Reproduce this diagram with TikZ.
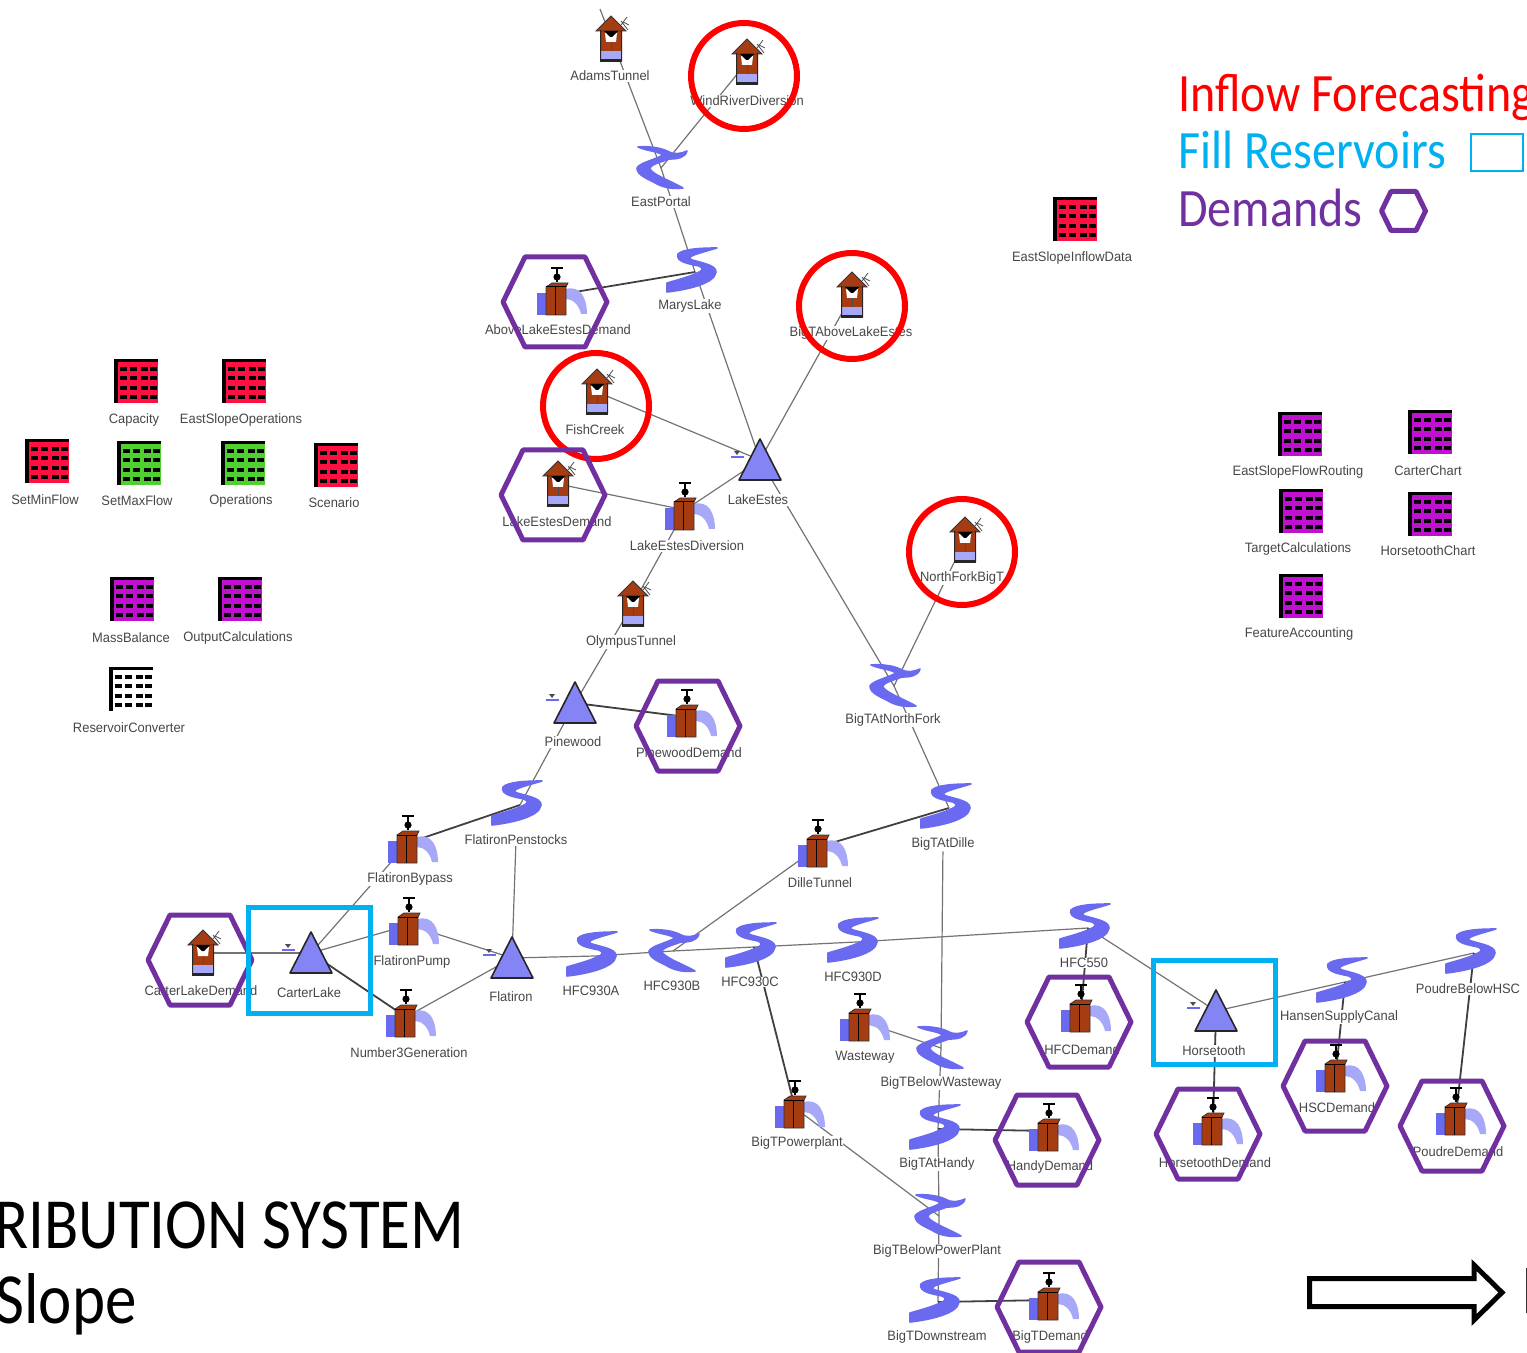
\documentclass[tikz,border=0pt]{standalone}
\usepackage{fontspec}
\setmainfont[FakeStretch=0.95]{Liberation Sans}
\newfontfamily\slidefont[FakeStretch=0.89]{Carlito}
\newfontfamily\titlefont[FakeStretch=0.875]{Carlito}
\pgfdeclarelayer{links}
\pgfsetlayers{links,main}
\definecolor{brick}{HTML}{A63C12}
\definecolor{riverblue}{HTML}{6A6AF0}
\definecolor{lakeblue}{HTML}{8484F4}
\definecolor{palewater}{HTML}{A8A8F8}
\definecolor{ringred}{HTML}{FF0000}
\definecolor{ringblue}{HTML}{00B0F0}
\definecolor{ringpurple}{HTML}{7030A0}
\definecolor{tabred}{HTML}{FF1040}
\definecolor{tabgreen}{HTML}{50D030}
\definecolor{tabpurple}{HTML}{C010D0}
\tikzset{
  x=0.5pt,y=-0.5pt,
  anchorpt/.style={inner sep=0pt,outer sep=0pt,minimum size=0pt},
  lbl/.style={font=\fontsize{6.8}{8}\selectfont,text=black!72,fill=white,inner sep=0.3pt},
  link/.style={draw=black!55,line width=0.6pt},
  strong/.style={draw=black!75,line width=0.9pt},
  redring/.style={circle,draw=ringred,line width=3pt,minimum size=53pt,inner sep=0pt},
  bluering/.style={rectangle,draw=ringblue,line width=2.5pt,inner sep=0pt},
  hexline/.style={draw=ringpurple,line width=2.5pt,line join=round},
  slide/.style={font=\slidefont\fontsize{27}{30}\selectfont,inner sep=0pt},
  big/.style={font=\titlefont\fontsize{36}{40}\selectfont,inner sep=0pt,text=black},
  houseicon/.pic={
    \draw[black!70,line width=0.4pt] (10,-18) -- (17,-9) (10,-14) -- (16,-22) (12,-17) -- (18,-14);
    \fill[brick] (-11,-9) -- (11,-9) -- (11,21) -- (-11,21) -- cycle;
    \fill[brick,draw=black!80,line width=0.4pt] (-15,-8) -- (0,-23) -- (15,-8) -- cycle;
    \fill[palewater] (-10,12) rectangle (10,20);
    \fill[black!85] (-11,20) rectangle (11,23);
    \fill[black!85] (-11,-9) rectangle (-10,22) (10,-9) rectangle (11,22);
    \fill[white] (-6,-6) -- (6,-6) -- (5,3) -- (-5,3) -- cycle;
    \fill[black] (-7,-8) -- (7,-8) -- (1,-2) -- (-1,-2) -- cycle;
    \draw[black!70,line width=0.3pt] (0,3) -- (0,12);
  },
  gateicon/.pic={
    \fill[palewater] (9,-6) .. controls (24,-10) and (30,4) .. (30,19) -- (24,19) .. controls (22,10) and (16,4) .. (9,4) -- cycle;
    \fill[riverblue] (-20,-2) -- (-11,-2) -- (-11,20) -- (-20,20) -- cycle;
    \fill[brick,draw=black!80,line width=0.4pt] (-11,-8) -- (-5,-12) -- (11,-12) -- (9,-8) -- (9,20) -- (-11,20) -- cycle;
    \draw[black,line width=0.5pt] (9,-8) -- (-11,-8) (-2,-8) -- (-2,20);
    \draw[black,line width=1.1pt] (0,-13) -- (0,-26) (-6,-27) -- (6,-27);
    \fill[black] (0,-18) circle (3.6);
  },
  sriver/.pic={
    \filldraw[riverblue,line width=0.8pt,line join=round] (22,-24) .. controls (5,-24) and (-12,-23) .. (-17,-18)
      .. controls (-20,-10) and (-5,-8) .. (4,-6)
      .. controls (9,-4) and (8,-1) .. (2,1)
      .. controls (-6,5) and (-18,8) .. (-28,11) -- (-28,20)
      .. controls (-10,18) and (20,12) .. (21,0)
      .. controls (22,-8) and (0,-10) .. (-5,-13)
      .. controls (-8,-16) and (5,-19) .. (22,-24) -- cycle;
  },
  zriver/.pic={
    \filldraw[riverblue,line width=0.8pt,line join=round] (-23,-21) .. controls (-12,-22) and (0,-20) .. (6,-17)
      .. controls (12,-13) and (20,-14) .. (26,-17)
      .. controls (24,-10) and (16,-9) .. (8,-9)
      .. controls (0,-6) and (-12,-3) .. (-11,1)
      .. controls (-8,7) and (12,14) .. (22,20)
      .. controls (12,21) and (4,20) .. (-4,16)
      .. controls (-12,11) and (-24,8) .. (-24,0)
      .. controls (-22,-5) and (-4,-9) .. (2,-13)
      .. controls (-4,-17) and (-14,-17) .. (-23,-21) -- cycle;
  },
  lakeicon/.pic={
    \draw[riverblue,line width=0.6pt] (-29,-3) -- (-16,-3);
    \fill[black!70] (-26,-9) -- (-20,-9) -- (-23,-5) -- cycle;
    \fill[lakeblue,draw=black!85,line width=0.8pt,line join=round] (0,-21) -- (21,20) -- (-21,20) -- cycle;
  },
  tabdots/.pic={
    \foreach \yy in {-12,-3,7,16} \foreach \xx in {-13,-3,8,17}
      \fill[black] (\xx-3.5,\yy-2) rectangle (\xx+3.5,\yy+2);
  },
  hexring/.pic={
    \draw[hexline] (-52,0) -- (-30,-45) -- (30,-45) -- (52,0) -- (30,45) -- (-30,45) -- cycle;
  }
}
% name, pic, icon x, icon y, label x, label y, text
\newcommand\station[7]{%
  \node[lbl] (#1-label) at (#5,#6) {#7};
  \node[anchorpt] (#1) at (#3,#4) {};
  \pic at (#1) {#2};
}
% name, colour, icon x, icon y, label x, label y, text
\newcommand\datatable[7]{%
  \node[lbl] (#1-label) at (#5,#6) {#7};
  \node[anchorpt] (#1) at (#3,#4) {};
  \fill[#2] ($(#1)+(-22,-22)$) rectangle ($(#1)+(22,22)$);
  \fill[black] ($(#1)+(-22,-22)$) rectangle ($(#1)+(-18,22)$);
  \fill[black] ($(#1)+(-22,-22)$) rectangle ($(#1)+(22,-19)$);
  \pic at (#1) {tabdots};
}
\usetikzlibrary{calc}
\begin{document}
\begin{tikzpicture}
\useasboundingbox (0,0) rectangle (1527,1353);
\clip (0,0) rectangle (1527,1353);

% stations
\station{adams}{houseicon}{611}{39}{610}{76}{AdamsTunnel}
\station{wind}{houseicon}{747}{62}{747}{101}{WindRiverDiversion}
\station{bigtabove}{houseicon}{852}{295}{851}{333}{BigTAboveLakeEstes}
\station{fish}{houseicon}{597}{392}{595}{430}{FishCreek}
\station{lakedemand}{houseicon}{558}{484}{557}{522}{LakeEstesDemand}
\station{olympus}{houseicon}{633}{604}{631}{642}{OlympusTunnel}
\station{northfork}{houseicon}{965}{540}{962}{578}{NorthForkBigT}
\station{carterdemand}{houseicon}{203}{953}{201}{991}{CarterLakeDemand}

\station{abovedemand}{gateicon}{557}{295}{558}{330}{AboveLakeEstesDemand}
\station{lakediv}{gateicon}{685}{510}{687}{546}{LakeEstesDiversion}
\station{pinedemand}{gateicon}{687}{717}{689}{753}{PinewoodDemand}
\station{bypass}{gateicon}{408}{843}{410}{879}{FlatironBypass}
\station{pump}{gateicon}{409}{925}{412}{962}{FlatironPump}
\station{numthree}{gateicon}{406}{1017}{409}{1053}{Number3Generation}
\station{dille}{gateicon}{818}{847}{820}{883}{DilleTunnel}
\station{wasteway}{gateicon}{860}{1021}{865}{1057}{Wasteway}
\station{powerplant}{gateicon}{795}{1108}{797}{1143}{BigTPowerplant}
\station{hfcdemand}{gateicon}{1081}{1012}{1082}{1050}{HFCDemand}
\station{hscdemand}{gateicon}{1336}{1072}{1337}{1108}{HSCDemand}
\station{horsedemand}{gateicon}{1213}{1125}{1215}{1163}{HorsetoothDemand}
\station{poudredemand}{gateicon}{1456}{1115}{1458}{1152}{PoudreDemand}
\station{handydemand}{gateicon}{1049}{1131}{1050}{1167}{HandyDemand}
\station{bigtdemand}{gateicon}{1049}{1300}{1050}{1337}{BigTDemand}

\station{eastportal}{zriver}{661}{168}{661}{202}{EastPortal}
\station{marys}{sriver}{695}{272}{690}{306}{MarysLake}
\station{atnorth}{zriver}{894}{686}{893}{720}{BigTAtNorthFork}
\station{atdille}{sriver}{949}{808}{943}{844}{BigTAtDille}
\station{penstocks}{sriver}{520}{805}{516}{840}{FlatironPenstocks}
\station{hfca}{sriver}{595}{956}{591}{991}{HFC930A}
\station{hfcb}{zriver}{673}{951}{672}{986}{HFC930B}
\station{hfcc}{sriver}{754}{947}{750}{982}{HFC930C}
\station{hfcd}{sriver}{856}{942}{853}{977}{HFC930D}
\station{hfcfive}{sriver}{1088}{928}{1084}{963}{HFC550}
\station{belowwaste}{zriver}{941}{1048}{941}{1083}{BigTBelowWasteway}
\station{athandy}{sriver}{938}{1129}{937}{1164}{BigTAtHandy}
\station{belowpower}{zriver}{939}{1216}{937}{1251}{BigTBelowPowerPlant}
\station{downstream}{sriver}{938}{1302}{937}{1337}{BigTDownstream}
\station{hansen}{sriver}{1345}{982}{1339}{1017}{HansenSupplyCanal}
\station{poudrebelow}{sriver}{1474}{953}{1468}{989}{PoudreBelowHSC}

\station{lakeestes}{lakeicon}{760}{460}{758}{500}{LakeEstes}
\station{pinewood}{lakeicon}{575}{703}{573}{742}{Pinewood}
\station{carter}{lakeicon}{311}{953}{309}{993}{CarterLake}
\station{flatiron}{lakeicon}{512}{958}{511}{997}{Flatiron}
\station{horsetooth}{lakeicon}{1216}{1011}{1214}{1051}{Horsetooth}

% data tables
\datatable{capacity}{tabred}{136}{381}{134}{420}{Capacity}
\datatable{eastops}{tabred}{244}{381}{241}{420}{EastSlopeOperations}
\datatable{setmin}{tabred}{47}{461}{45}{500}{SetMinFlow}
\datatable{setmax}{tabgreen}{139}{463}{137}{501}{SetMaxFlow}
\datatable{operations}{tabgreen}{243}{463}{241}{501}{Operations}
\datatable{scenario}{tabred}{336}{465}{334}{503}{Scenario}
\datatable{mass}{tabpurple}{132}{599}{131}{638}{MassBalance}
\datatable{output}{tabpurple}{240}{599}{238}{638}{OutputCalculations}
\datatable{converter}{white}{131}{689}{129}{728}{ReservoirConverter}
\datatable{inflowdata}{tabred}{1075}{219}{1072}{258}{EastSlopeInflowData}
\datatable{routing}{tabpurple}{1300}{434}{1298}{472}{EastSlopeFlowRouting}
\datatable{carterchart}{tabpurple}{1430}{432}{1428}{471}{CarterChart}
\datatable{target}{tabpurple}{1301}{511}{1298}{549}{TargetCalculations}
\datatable{horsechart}{tabpurple}{1430}{514}{1428}{551}{HorsetoothChart}
\datatable{feature}{tabpurple}{1301}{596}{1299}{634}{FeatureAccounting}

% connectors under the icons
\coordinate (topend) at (600,9);
\begin{pgfonlayer}{links}
\draw[link] (topend) -- (eastportal);
\draw[link] (wind) -- (eastportal);
\draw[link] (eastportal) -- (marys);
\draw[strong] (abovedemand) -- (marys);
\draw[link] (marys) -- (lakeestes);
\draw[link] (bigtabove) -- (lakeestes);
\draw[link] (fish) -- (lakeestes);
\draw[link] (lakedemand) -- (lakediv);
\draw[link] (lakediv) -- (lakeestes);
\draw[link] (lakediv) -- (olympus);
\draw[link] (olympus) -- (pinewood);
\draw[strong] (pinewood) -- (pinedemand);
\draw[link] (pinewood) -- (penstocks);
\draw[strong] (penstocks) -- (bypass);
\draw[link] (penstocks-label) -- (flatiron);
\draw[link] (bypass) -- (carter);
\draw[link] (carter) -- (pump);
\draw[link] (pump) -- (flatiron);
\draw[strong] (carter) -- (numthree);
\draw[link] (numthree) -- (flatiron);
\draw[link] (carterdemand) -- (carter);
\draw[link] (flatiron) -- (hfca);
\draw[link] (hfca) -- (hfcb);
\draw[link] (hfcb) -- (hfcc);
\draw[link] (hfcc) -- (hfcd);
\draw[link] (hfcd) -- (hfcfive);
\draw[link] (hfcfive) -- (horsetooth);
\draw[strong] (hfcfive) -- (hfcdemand);
\draw[link] (hfcb) -- (dille);
\draw[strong] (dille) -- (atdille);
\draw[link] (lakeestes) -- (atnorth);
\draw[link] (northfork) -- (atnorth);
\draw[link] (atnorth) -- (atdille);
\draw[link] (atdille-label) -- (belowwaste);
\draw[link] (wasteway) -- (belowwaste);
\draw[link] (belowwaste) -- (athandy);
\draw[strong] (athandy) -- (handydemand);
\draw[link] (athandy) -- (belowpower);
\draw[link] (belowpower) -- (downstream);
\draw[strong] (downstream) -- (bigtdemand);
\draw[strong] (hfcc) -- (powerplant);
\draw[link] (powerplant) -- (belowpower);
\draw[strong] (horsetooth) -- (horsedemand);
\draw[link] (horsetooth) -- (hansen);
\draw[strong] (hansen) -- (hscdemand);
\draw[link] (hansen) -- (poudrebelow);
\draw[strong] (poudrebelow) -- (poudredemand);
\end{pgfonlayer}

% red rings
\node[redring] (ringwind) at (744,76) {};
\node[redring] (ringabove) at (852,306) {};
\node[redring] (ringfish) at (596,406) {};
\node[redring] (ringnorth) at (962,552) {};

% purple hexagons
\pic at (555,302) {hexring};
\pic at (553,495) {hexring};
\pic at (688,726) {hexring};
\pic at (200,960) {hexring};
\pic at (1079,1022) {hexring};
\pic at (1047,1140) {hexring};
\pic at (1049,1307) {hexring};
\pic at (1208,1134) {hexring};
\pic at (1335,1086) {hexring};
\pic at (1452,1126) {hexring};

% blue boxes
\node[bluering,minimum width=61pt,minimum height=53pt] (boxcarter) at (309,960) {};
\node[bluering,minimum width=61pt,minimum height=52pt] (boxhorse) at (1214,1012) {};

% legend
\node[slide,anchor=base west,text=ringred] (inflowtext) at (1178,112) {Inflow Forecasting};
\node[slide,anchor=base west,text=ringblue] (filltext) at (1178,169) {Fill Reservoirs};
\node[slide,anchor=base west,text=ringpurple] (demandtext) at (1178,227) {Demands};
\node[bluering,line width=1pt,minimum width=26pt,minimum height=18.5pt] (legendbox) at (1497,152.5) {};
\draw[hexline] (1381.5,211) -- (1391,191.5) -- (1416,191.5) -- (1425.5,211) -- (1416,230.5) -- (1391,230.5) -- cycle;

% title fragments
\node[big,anchor=base east] (titleone) at (465,1248) {RIBUTION SYSTEM};
\node[big,anchor=base east] (titletwo) at (137,1323) {Slope};

% outlined arrow
\draw[black,fill=white,line width=2.5pt,line join=miter] (1309.5,1278.5) -- (1474,1278.5) -- (1474,1265) -- (1502,1292.5) -- (1474,1320) -- (1474,1306.5) -- (1309.5,1306.5) -- cycle;
\draw[black!80,line width=1pt] (1526.5,1268) -- (1526.5,1313);
\end{tikzpicture}
\end{document}
